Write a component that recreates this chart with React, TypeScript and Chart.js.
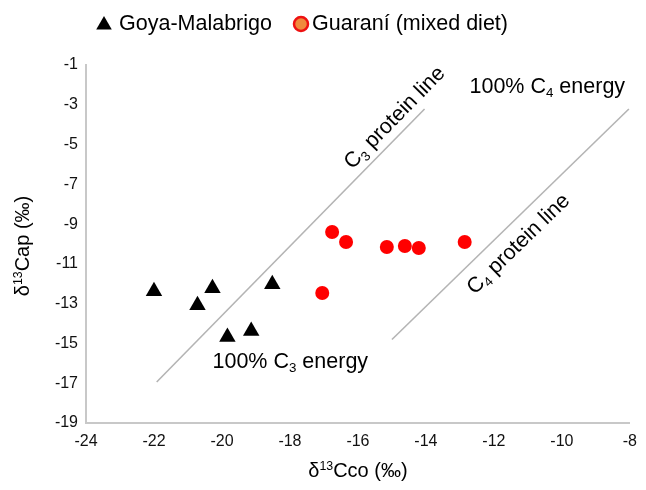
import React, { useEffect, useRef } from "react";
import { Chart, registerables } from "chart.js";

Chart.register(...registerables);

// ---- data ----
const seriesNames = ["Goya-Malabrigo", "Guaraní (mixed diet)"];
const goyaX = [-22.0, -20.72, -20.28, -19.84, -19.14, -18.52];
const goyaY = [-12.38, -13.08, -12.22, -14.68, -14.38, -12.02];
const guaraniX = [-16.76, -16.35, -15.15, -14.62, -14.21, -12.86, -17.05];
const guaraniY = [-9.4, -9.9, -10.15, -10.1, -10.2, -9.9, -12.46];
const c3LineX = [-21.92, -14.04];
const c3LineY = [-16.94, -3.21];
const c4LineX = [-15.0, -8.03];
const c4LineY = [-14.8, -3.21];
const xRange = [-24, -8];
const yRange = [-19, -1];
const tickStep = 2;

const FONT = '"Liberation Sans", Arial, Helvetica, sans-serif';

type Part = { t: string; sub?: boolean; sup?: boolean };

// annotation anchors in data coordinates
const annotations: { parts: Part[]; x: number; y: number; along?: "c3" | "c4" }[] = [
  { parts: [{ t: "C" }, { t: "3", sub: true }, { t: " protein line" }], x: -14.95, y: -3.6, along: "c3" },
  { parts: [{ t: "C" }, { t: "4", sub: true }, { t: " protein line" }], x: -11.31, y: -9.95, along: "c4" },
  { parts: [{ t: "100% C" }, { t: "4", sub: true }, { t: " energy" }], x: -10.43, y: -2.0 },
  { parts: [{ t: "100% C" }, { t: "3", sub: true }, { t: " energy" }], x: -17.99, y: -15.83 },
];

const toPts = (xs: number[], ys: number[]) => xs.map((x, i) => ({ x, y: ys[i] }));

function drawRich(
  ctx: CanvasRenderingContext2D,
  parts: Part[],
  cx: number,
  cy: number,
  angle: number,
  size: number
) {
  ctx.save();
  ctx.translate(cx, cy);
  ctx.rotate(angle);
  ctx.textBaseline = "alphabetic";
  ctx.textAlign = "left";
  ctx.fillStyle = "#000";
  const small = size * 0.62;
  let total = 0;
  const widths = parts.map((p) => {
    ctx.font = `${p.sub || p.sup ? small : size}px ${FONT}`;
    const w = ctx.measureText(p.t).width;
    total += w;
    return w;
  });
  let x = -total / 2;
  const base = size * 0.36;
  parts.forEach((p, i) => {
    ctx.font = `${p.sub || p.sup ? small : size}px ${FONT}`;
    let dy = 0;
    if (p.sub) dy = size * 0.2;
    if (p.sup) dy = -size * 0.36;
    ctx.fillText(p.t, x, base + dy);
    x += widths[i];
  });
  ctx.restore();
}

const overlayPlugin = {
  id: "overlay",
  afterDraw(chart: any) {
    const ctx: CanvasRenderingContext2D = chart.ctx;
    const xs = chart.scales.x;
    const ys = chart.scales.y;

    // legend
    ctx.save();
    ctx.fillStyle = "#000";
    const lx = 104, ly = 25, r = 9;
    ctx.beginPath();
    ctx.moveTo(lx, ly - r);
    ctx.lineTo(lx + r * 0.866, ly + r * 0.5);
    ctx.lineTo(lx - r * 0.866, ly + r * 0.5);
    ctx.closePath();
    ctx.fill();
    ctx.font = `21.5px ${FONT}`;
    ctx.textBaseline = "middle";
    ctx.textAlign = "left";
    ctx.fillText(seriesNames[0], 119, 24);
    ctx.beginPath();
    ctx.arc(301, 24, 7, 0, Math.PI * 2);
    ctx.fillStyle = "#f08a3c";
    ctx.fill();
    ctx.lineWidth = 2.5;
    ctx.strokeStyle = "#ee1111";
    ctx.stroke();
    ctx.fillStyle = "#000";
    ctx.fillText(seriesNames[1], 312, 24);
    ctx.restore();

    // axis titles
    const area = chart.chartArea;
    drawRich(
      ctx,
      [{ t: "δ" }, { t: "13", sup: true }, { t: "Cco (‰)" }],
      (area.left + area.right) / 2,
      470,
      0,
      20
    );
    drawRich(
      ctx,
      [{ t: "δ" }, { t: "13", sup: true }, { t: "Cap (‰)" }],
      22,
      (area.top + area.bottom) / 2 + 2,
      -Math.PI / 2,
      20
    );

    // annotations
    const lineAngle = (lx: number[], lyv: number[]) =>
      Math.atan2(
        ys.getPixelForValue(lyv[1]) - ys.getPixelForValue(lyv[0]),
        xs.getPixelForValue(lx[1]) - xs.getPixelForValue(lx[0])
      );
    annotations.forEach((a) => {
      const ang = a.along === "c3" ? lineAngle(c3LineX, c3LineY) : a.along === "c4" ? lineAngle(c4LineX, c4LineY) : 0;
      drawRich(ctx, a.parts, xs.getPixelForValue(a.x), ys.getPixelForValue(a.y), ang, 21.5);
    });
  },
};

export default function App() {
  const ref = useRef<HTMLCanvasElement | null>(null);
  useEffect(() => {
    document.body.style.margin = "0";
    if (!ref.current) return;
    const lineStyle = {
      borderColor: "#b4b4b4",
      borderWidth: 1.6,
      pointRadius: 0,
      showLine: true,
      fill: false,
    };
    const chart = new Chart(ref.current, {
      type: "scatter",
      data: {
        datasets: [
          { label: "C3 protein line", data: toPts(c3LineX, c3LineY), ...lineStyle },
          { label: "C4 protein line", data: toPts(c4LineX, c4LineY), ...lineStyle },
          {
            label: seriesNames[0],
            data: toPts(goyaX, goyaY),
            pointStyle: "triangle",
            pointRadius: 9.5,
            backgroundColor: "#000",
            borderColor: "#000",
            borderWidth: 0,
          },
          {
            label: seriesNames[1],
            data: toPts(guaraniX, guaraniY),
            pointStyle: "circle",
            pointRadius: 7,
            backgroundColor: "#ff0000",
            borderColor: "#ff0000",
            borderWidth: 0,
          },
        ],
      },
      options: {
        responsive: false,
        animation: false,
        devicePixelRatio: 1,
        layout: { padding: { top: 65, right: 14, left: 0, bottom: 0 } },
        plugins: { legend: { display: false }, tooltip: { enabled: false } },
        scales: {
          x: {
            type: "linear",
            min: xRange[0],
            max: xRange[1],
            ticks: { stepSize: tickStep, color: "#111", font: { family: FONT, size: 16 }, padding: 9 },
            grid: { display: false, drawTicks: false },
            border: { display: true, color: "#c8c8c8", width: 2 },
            afterFit: (s: any) => {
              s.height = 67;
            },
          },
          y: {
            type: "linear",
            min: yRange[0],
            max: yRange[1],
            ticks: { stepSize: tickStep, color: "#111", font: { family: FONT, size: 16 }, padding: 8 },
            grid: { display: false, drawTicks: false },
            border: { display: true, color: "#c8c8c8", width: 2 },
            afterFit: (s: any) => {
              s.width = 86;
            },
          },
        },
      },
      plugins: [overlayPlugin],
    });
    return () => chart.destroy();
  }, []);
  return <canvas ref={ref} width={646} height={490} style={{ display: "block", width: 646, height: 490 }} />;
}
